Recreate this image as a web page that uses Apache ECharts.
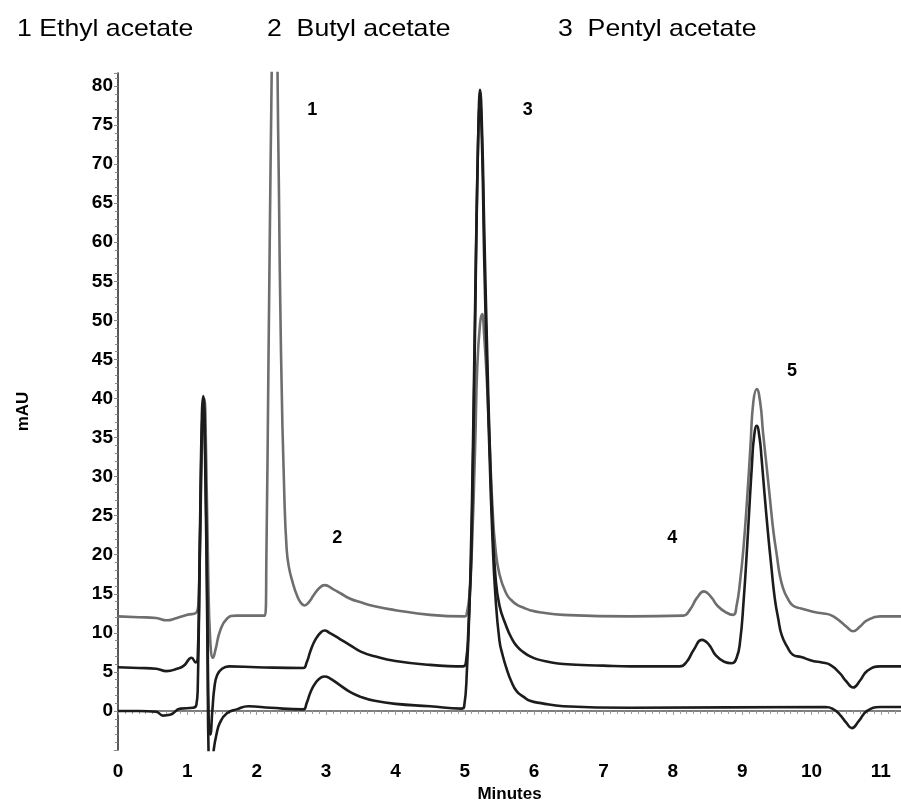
<!DOCTYPE html>
<html>
<head>
<meta charset="utf-8">
<script src="https://cdn.jsdelivr.net/npm/echarts@6/dist/echarts.min.js"></script>
<style>
    html, body { margin: 0; padding: 0; background: #fff; }
    #chart { width: 901px; height: 808px; }
</style>
</head>
<body>
<div id="chart"></div>
<script>
// [minutes, mAU]
var grayTrace = [
    [0, 12.1], [0.3, 12.0], [0.55, 11.9], [0.7, 11.6], [0.85, 11.9], [1.0, 12.3], [1.13, 12.6],
    [1.16, 14], [1.19, 25], [1.22, 37], [1.245, 40], [1.27, 33], [1.30, 18], [1.33, 9], [1.37, 6.8],
    [1.41, 8], [1.47, 10.2], [1.57, 11.8], [1.7, 12.2], [2.0, 12.2], [2.12, 12.2],
    [2.14, 20], [2.17, 45], [2.20, 70], [2.22, 85], [2.26, 130], [2.30, 82], [2.32, 67], [2.35, 46],
    [2.40, 27], [2.43, 21], [2.46, 18.6], [2.52, 16.4], [2.58, 14.8], [2.64, 13.8], [2.69, 13.5],
    [2.75, 13.9], [2.82, 14.8], [2.9, 15.7], [2.98, 16.1], [3.1, 15.6], [3.22, 15.0], [3.34, 14.4],
    [3.5, 13.9], [3.7, 13.4], [4.0, 12.9], [4.5, 12.3],
    [5.0, 12.1], [5.03, 12.5], [5.07, 15], [5.10, 20], [5.15, 34], [5.18, 44], [5.22, 49.5],
    [5.25, 50.8], [5.28, 48], [5.32, 42], [5.36, 34], [5.40, 26], [5.44, 21], [5.5, 17.5],
    [5.6, 15], [5.67, 14.2], [5.75, 13.6], [5.85, 13.2], [5.94, 12.9], [6.1, 12.6], [6.42, 12.3],
    [7.38, 12.1], [8.15, 12.2],
    [8.25, 13.0], [8.35, 14.5], [8.45, 15.3], [8.55, 14.6], [8.65, 13.4], [8.77, 12.6], [8.87, 12.3],
    [8.92, 13.5], [8.97, 16.6], [9.02, 21], [9.07, 27], [9.12, 34], [9.16, 39.5], [9.21, 41.2],
    [9.26, 39.5], [9.30, 35.7], [9.35, 31.5], [9.40, 27.2], [9.45, 23], [9.50, 19.9], [9.54, 17.5],
    [9.59, 15.7], [9.65, 14.5], [9.73, 13.5], [9.85, 13.1], [10.02, 12.7], [10.15, 12.5], [10.27, 12.3],
    [10.41, 11.5], [10.5, 10.8], [10.6, 10.2], [10.7, 10.8], [10.8, 11.6], [10.99, 12.1], [11.29, 12.1]
];

var middleTrace = [
    [0, 5.6], [0.3, 5.5], [0.55, 5.4], [0.7, 5.1], [0.85, 5.4], [0.95, 5.8], [1.06, 6.8], [1.12, 6.2],
    [1.15, 7], [1.18, 22], [1.21, 38], [1.23, 40.3], [1.26, 32], [1.29, 12], [1.31, -2], [1.33, -3],
    [1.36, 0], [1.39, 3], [1.43, 4.6], [1.5, 5.4], [1.6, 5.7], [2.0, 5.6], [2.67, 5.5],
    [2.72, 6.2], [2.78, 7.8], [2.85, 9.2], [2.93, 10.1], [2.98, 10.3], [3.05, 10.0], [3.2, 9.2],
    [3.35, 8.4], [3.5, 7.6], [3.7, 7.0], [4.0, 6.4], [4.5, 5.9], [4.98, 5.7], [5.02, 6.5], [5.05, 10],
    [5.08, 17], [5.12, 35], [5.16, 58], [5.20, 76], [5.22, 79.5], [5.25, 74], [5.28, 62], [5.32, 47],
    [5.36, 34], [5.40, 24], [5.44, 17.5], [5.5, 13.5], [5.6, 10.8], [5.67, 9.4], [5.75, 8.3],
    [5.85, 7.5], [5.94, 7.0], [6.05, 6.6], [6.2, 6.3], [6.42, 6.0], [7.0, 5.8], [7.4, 5.7], [8.1, 5.7],
    [8.2, 6.3], [8.3, 7.8], [8.42, 9.1], [8.52, 8.5], [8.62, 7.1], [8.74, 6.3], [8.85, 6.1],
    [8.92, 6.8], [8.97, 8.9], [9.02, 14], [9.07, 20.8], [9.11, 27], [9.14, 31.4], [9.17, 35],
    [9.21, 36.5], [9.25, 35], [9.28, 32.3], [9.32, 28], [9.37, 23], [9.42, 18.5], [9.47, 14.4],
    [9.52, 11.8], [9.57, 9.7], [9.65, 8.2], [9.73, 7.2], [9.85, 6.9], [10.02, 6.4], [10.15, 6.2],
    [10.27, 5.9], [10.41, 4.8], [10.5, 3.8], [10.6, 3.0], [10.7, 3.9], [10.8, 5.1], [10.99, 5.7], [11.29, 5.7]
];

var bottomTrace = [
    [0, 0], [0.3, 0], [0.55, -0.1], [0.65, -0.6], [0.75, -0.5], [0.9, 0.3], [1.08, 0.4], [1.13, 0.8],
    [1.15, 3], [1.18, 20], [1.21, 36], [1.23, 39], [1.26, 30], [1.29, 8], [1.31, -7], [1.35, -8],
    [1.38, -5], [1.42, -3], [1.47, -1.5], [1.57, -0.3], [1.71, 0.2], [1.88, 0.6], [2.2, 0.4], [2.67, 0.2],
    [2.72, 1.0], [2.78, 2.5], [2.85, 3.6], [2.93, 4.3], [2.98, 4.4], [3.05, 4.2], [3.2, 3.3], [3.35, 2.4],
    [3.5, 1.8], [3.7, 1.3], [4.0, 0.9], [4.5, 0.6], [4.95, 0.3], [4.99, 0.5], [5.03, 5], [5.07, 14],
    [5.10, 22], [5.15, 50], [5.19, 72], [5.22, 78], [5.25, 72], [5.28, 58], [5.32, 44], [5.36, 32],
    [5.40, 22], [5.44, 15], [5.5, 9], [5.55, 7], [5.6, 5.5], [5.67, 3.8], [5.75, 2.5], [5.85, 1.8],
    [5.94, 1.3], [6.1, 1.0], [6.42, 0.6], [7.38, 0.4], [10.2, 0.5], [10.3, 0.3],
    [10.41, -0.5], [10.5, -1.5], [10.58, -2.2], [10.68, -1.3], [10.8, 0], [10.99, 0.5], [11.29, 0.5]
];

// peak numbers
var peakLabels = ['1', '2', '3', '4', '5'];
var peakLabelPos = [[2.80, 76.9], [3.16, 22.1], [5.91, 76.9], [7.99, 22.1], [9.72, 43.5]];

// compound names at the top
var compoundNames = ['1 Ethyl acetate', '2  Butyl acetate', '3  Pentyl acetate'];
var compoundX = [17, 267, 558];

var chart = echarts.init(document.getElementById('chart'));

var fontFam = 'Arial, "Liberation Sans", sans-serif';

var traceStyle = function (color) {
    return { color: color, width: 2.6 };
};

var option = {
    animation: false,
    grid: {
        left: 118,
        right: 0,
        top: 73,
        bottom: 56
    },
    graphic: compoundNames.map(function (name, i) {
        return {
            type: 'text',
            x: compoundX[i],
            y: 29,
            scaleX: 1.11,
            style: {
                text: name,
                fill: '#000',
                font: '24px ' + fontFam,
                textVerticalAlign: 'middle'
            }
        };
    }),
    xAxis: {
        type: 'value',
        min: 0,
        max: 11.29,
        interval: 1,
        name: 'Minutes',
        nameLocation: 'middle',
        nameGap: 36,
        nameTextStyle: { fontFamily: fontFam, fontWeight: 'bold', fontSize: 17, color: '#000' },
        axisLine: { lineStyle: { color: '#555', width: 1.5 } },
        axisTick: { show: true, length: 4, lineStyle: { color: '#999' } },
        minorTick: { show: true, splitNumber: 10, length: 3, lineStyle: { color: '#999' } },
        splitLine: { show: false },
        axisLabel: {
            margin: 12,
            fontFamily: fontFam, fontWeight: 'bold', fontSize: 19, color: '#000',
            showMaxLabel: false
        }
    },
    yAxis: {
        type: 'value',
        min: -5,
        max: 81.66,
        interval: 5,
        name: 'mAU',
        nameLocation: 'middle',
        nameGap: 86,
        nameTextStyle: { fontFamily: fontFam, fontWeight: 'bold', fontSize: 17, color: '#000' },
        axisLine: { show: true, lineStyle: { color: '#222', width: 1.5 } },
        axisTick: { show: true, length: 4, lineStyle: { color: '#888' } },
        minorTick: { show: true, splitNumber: 5, length: 3, lineStyle: { color: '#888' } },
        splitLine: { show: false },
        axisLabel: {
            margin: 5,
            fontFamily: fontFam, fontWeight: 'bold', fontSize: 19, color: '#000',
            formatter: function (v) { return v < 0 ? '' : v; }
        }
    },
    series: [
        {
            name: 'gray',
            type: 'line',
            data: grayTrace,
            showSymbol: false,
            smooth: 0.5,
            lineStyle: traceStyle('#6e6e6e'),
            z: 2
        },
        {
            name: 'middle',
            type: 'line',
            data: middleTrace,
            showSymbol: false,
            smooth: 0.5,
            lineStyle: traceStyle('#1c1c1c'),
            z: 3
        },
        {
            name: 'bottom',
            type: 'line',
            data: bottomTrace,
            showSymbol: false,
            smooth: 0.5,
            lineStyle: traceStyle('#1c1c1c'),
            z: 4
        },
        {
            name: 'peaks',
            type: 'scatter',
            symbolSize: 0,
            itemStyle: { opacity: 1 },
            data: peakLabelPos.map(function (p, i) { return [p[0], p[1], peakLabels[i]]; }),
            label: {
                show: true,
                position: 'inside',
                formatter: function (p) { return p.data[2]; },
                fontFamily: fontFam, fontWeight: 'bold', fontSize: 18, color: '#000',
                textBorderWidth: 0
            },
            z: 5
        }
    ]
};

chart.setOption(option);
</script>
</body>
</html>
